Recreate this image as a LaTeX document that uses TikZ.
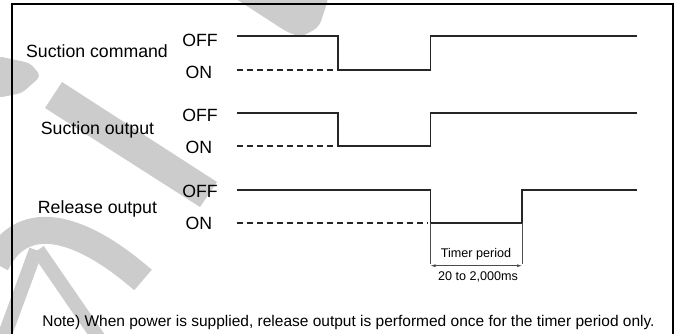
\documentclass[tikz,border=0pt]{standalone}
\usepackage{fontspec}
\setmainfont{Liberation Sans}
\usetikzlibrary{arrows.meta}
\begin{document}
\begin{tikzpicture}[x=1pt,y=-1pt,
  wm/.style={fill=black!20,draw=none},
  wml/.style={draw=black!20,line cap=butt},
  frame/.style={draw=black,line width=1.1pt},
  sig/.style={draw=black!85,line width=1.8pt,line join=miter},
  dashline/.style={draw=black!85,line width=1.3pt,dash pattern=on 6pt off 4pt},
  lbl/.style={anchor=base,inner sep=0pt,font=\fontsize{17.7}{20}\selectfont},
  lvl/.style={anchor=base,inner sep=0pt,font=\fontsize{17.7}{20}\selectfont},
  small/.style={anchor=base,inner sep=0pt,font=\fontsize{12.6}{14}\selectfont},
  note/.style={anchor=base,inner sep=0pt,font=\fontsize{15.5}{17}\selectfont},
  dim/.style={draw=black!70,line width=0.7pt}]
\useasboundingbox (0,0) rectangle (678,333);
% watermark
\fill[wm,rounded corners=6pt] (233,-3) -- (329,-3) -- (319,27) -- (301,37) -- (287,32) -- cycle;
\fill[wm,rounded corners=5pt] (-3,56) -- (30,63) -- (41,76) -- (22,93) -- (-3,98) -- cycle;
\fill[wm] (62,82) -- (217,182) -- (200,207) -- (45,108) -- cycle;
\draw[wml,line width=27pt] (-4,264) .. controls (20,214) and (74,220) .. (143,280);
\draw[wml,line width=14pt] (36,250) -- (4,337);
\draw[wml,line width=14pt] (38,250) -- (100,340);
% frame
\draw[frame] (12,340) -- (12,4) -- (673,4) -- (673,340);
% labels
\node[lbl] (sc) at (97,57) {Suction command};
\node[lbl] (so) at (97.5,134) {Suction output};
\node[lbl] (ro) at (97.5,213) {Release output};
\node[lvl] (off1) at (200,46.5) {OFF};
\node[lvl] (on1) at (199,78) {ON};
\node[lvl] (off2) at (200,121) {OFF};
\node[lvl] (on2) at (199,153) {ON};
\node[lvl] (off3) at (200,197) {OFF};
\node[lvl] (on3) at (199,229) {ON};
% signals
\draw[sig] (237,36) -- (338,36) -- (338,70) -- (430.5,70) -- (430.5,36) -- (637,36);
\draw[dashline] (237,70) -- (336,70);
\draw[sig] (237,113) -- (338,113) -- (338,146) -- (430.5,146) -- (430.5,113) -- (637,113);
\draw[dashline] (237,146) -- (336,146);
\draw[sig] (237,190) -- (430.5,190) -- (430.5,223) -- (522,223) -- (522,190) -- (637,190);
\draw[dashline] (237,223) -- (428,223);
% timer period
\coordinate (ta) at (430.5,223);
\coordinate (tb) at (522,223);
\coordinate (tc) at (430.5,264);
\coordinate (td) at (522,264);
\draw[dim] (ta) -- (tc);
\draw[dim] (tb) -- (td);
\draw[dim,{Latex[length=5pt,width=3pt]}-{Latex[length=5pt,width=3pt]}] ([yshift=-1.7pt]tc) -- ([yshift=-1.7pt]td);
\node[small] (tp) at (476,257) {Timer period};
\node[small] (tr) at (478,280) {20 to 2,000ms};
\node[note] (nt) at (348.5,326) {Note) When power is supplied, release output is performed once for the timer period only.};
\end{tikzpicture}
\end{document}
